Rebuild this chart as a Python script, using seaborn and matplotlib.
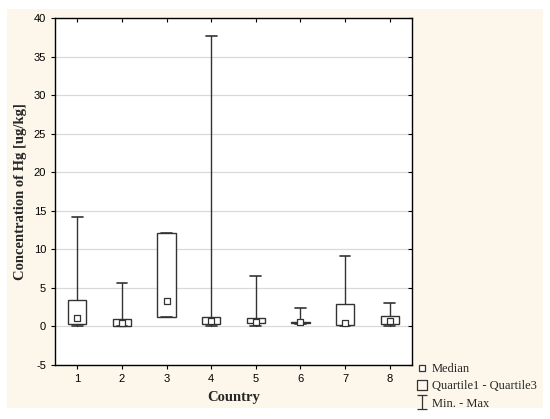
import matplotlib
matplotlib.use("Agg")
import matplotlib.pyplot as plt
from matplotlib.path import Path
from matplotlib.lines import Line2D
from matplotlib.patches import Rectangle
import seaborn as sns
import pandas as pd

countries = [1, 2, 3, 4, 5, 6, 7, 8]
minimum = [0.0, 0.05, 1.19, 0.03, 0.1, 0.3, 0.1, 0.1]
q1 = [0.3, 0.1, 1.19, 0.32, 0.45, 0.42, 0.15, 0.36]
median = [1.06, 0.45, 3.3, 0.67, 0.6, 0.52, 0.45, 0.7]
q3 = [3.4, 0.93, 12.1, 1.19, 1.1, 0.62, 2.88, 1.4]
maximum = [14.2, 5.6, 12.1, 37.7, 6.6, 2.45, 9.2, 3.0]
yticks = [-5, 0, 5, 10, 15, 20, 25, 30, 35, 40]

sns.set_style("white")
plt.rcParams["font.family"] = ["Liberation Sans", "DejaVu Sans"]
plt.rcParams["axes.unicode_minus"] = False

LC = "#333333"
SERIF = ["Liberation Serif", "DejaVu Serif"]

fig = plt.figure(figsize=(5.5, 4.19), dpi=100)
fig.patch.set_facecolor("white")
fig.patches.append(Rectangle((7 / 550, 1 - 408 / 419), 536 / 550, 399 / 419,
                             transform=fig.transFigure, facecolor="#fcf7ea",
                             edgecolor="none", zorder=-10))
ax = fig.add_axes([55 / 550, 1 - 365 / 419, 357 / 550, 347 / 419])
ax.set_facecolor("white")

stats = [dict(whislo=mn, q1=a, med=m, q3=b, whishi=mx, fliers=[])
         for mn, a, m, b, mx in zip(minimum, q1, median, q3, maximum)]
ax.bxp(stats, positions=countries, widths=0.41, capwidths=0.24,
       showfliers=False, patch_artist=True,
       boxprops=dict(facecolor="white", edgecolor=LC, linewidth=1.0),
       whiskerprops=dict(color=LC, linewidth=1.0),
       capprops=dict(color=LC, linewidth=1.2),
       medianprops=dict(linestyle="none"), zorder=3)

df = pd.DataFrame({"Country": countries, "Median": median})
sns.scatterplot(data=df, x="Country", y="Median", marker="s", s=18,
                facecolor="white", edgecolor=LC, linewidth=0.9, ax=ax, zorder=4,
                legend=False)

ax.set_xlim(0.5, 8.5)
ax.set_ylim(-5, 40)
ax.set_yticks(yticks)
ax.set_xticks(countries)
ax.set_xticklabels([str(c) for c in countries])
ax.yaxis.grid(True, color="#d9d9d9", linewidth=0.9, zorder=0)
ax.set_axisbelow(True)
for sp in ax.spines.values():
    sp.set_color("black")
    sp.set_linewidth(1.0)
    sp.set_visible(True)
ax.tick_params(axis="both", which="both", labelsize=8, colors="black",
               direction="out", length=3, width=0.8, bottom=True, left=True)
ax.tick_params(top=True, right=True)
for t in ax.xaxis.get_major_ticks():
    t.tick2line.set_marker(3)  # inward on top
for t in ax.yaxis.get_major_ticks():
    t.tick2line.set_marker(0)  # inward on right

ax.set_xlabel("Country", fontsize=10.5, fontweight="bold", family=SERIF)
ax.set_ylabel("Concentration of Hg [ug/kg]", fontsize=10.5, fontweight="bold",
              family=SERIF)
ax.xaxis.set_label_coords(0.5, (365 - 391) / 347)
ax.yaxis.set_label_coords((27 - 55) / 357, 0.5)

ibeam = Path([(-0.77, -1), (0.77, -1), (0, -1), (0, 1), (-0.77, 1), (0.77, 1)],
             [Path.MOVETO, Path.LINETO, Path.MOVETO, Path.LINETO, Path.MOVETO, Path.LINETO])
rect = Path([(-0.9, -1), (0.9, -1), (0.9, 1), (-0.9, 1), (-0.9, -1)],
            [Path.MOVETO, Path.LINETO, Path.LINETO, Path.LINETO, Path.CLOSEPOLY])
handles = [
    Line2D([], [], linestyle="none", marker="s", markersize=4.5, markerfacecolor="white",
           markeredgecolor=LC, markeredgewidth=0.9),
    Line2D([], [], linestyle="none", marker=rect, markersize=7.5, markerfacecolor="none",
           markeredgecolor=LC, markeredgewidth=0.9),
    Line2D([], [], linestyle="none", marker=ibeam, markersize=9.5, markerfacecolor="none",
           markeredgecolor=LC, markeredgewidth=0.9),
]
labels = ["Median", "Quartile1 - Quartile3", "Min. - Max"]
fig.legend(handles, labels, loc="upper left", bbox_to_anchor=(417 / 550, 1 - 363 / 419),
           frameon=False, prop={"family": SERIF, "size": 9.0}, handlelength=0.8,
           handletextpad=0.4, labelspacing=0.42, borderpad=0.0, borderaxespad=0.0)

fig.savefig("out.png", dpi=100)
